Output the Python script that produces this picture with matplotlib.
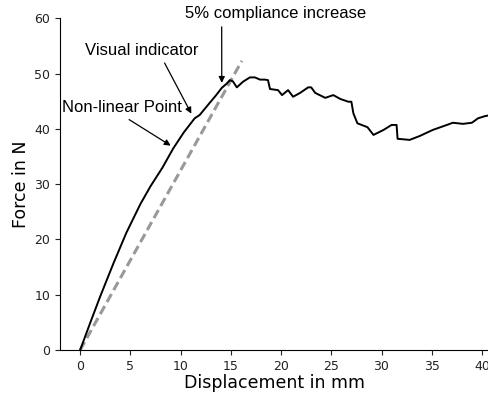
import numpy as np
import matplotlib.pyplot as plt

# force-displacement curve
disp = [0, 1.0, 2.0, 3.3, 4.6, 6.0, 7.0, 8.2, 9.25, 10.3, 11.4, 11.9,
        12.9, 13.5, 14.1, 14.6, 14.9, 15.2,
        15.6, 16.2, 16.9, 17.4, 17.9, 18.4, 18.7, 18.9, 19.7, 20.1, 20.7, 21.2,
        21.9, 22.7, 23.0, 23.4, 24.4, 25.2, 25.9, 26.7, 27.0, 27.2, 27.6, 28.6,
        29.2, 30.2, 31.0, 31.5, 31.6, 32.8, 33.8, 35.1, 36.5, 37.1, 38.1, 39.0,
        39.6, 40.3, 40.6]
force = [0, 4.9, 9.7, 15.6, 21.2, 26.4, 29.6, 33.0, 36.4, 39.3, 41.9, 42.5,
         44.7, 46.0, 47.4, 48.2, 48.8, 48.6,
         47.5, 48.5, 49.3, 49.3, 48.9, 48.9, 48.8, 47.2, 47.0, 46.1, 47.0, 45.8,
         46.5, 47.5, 47.5, 46.5, 45.6, 46.1, 45.4, 44.9, 44.9, 42.8, 41.0, 40.3,
         38.9, 39.8, 40.7, 40.7, 38.2, 38.0, 38.7, 39.8, 40.7, 41.1, 40.9, 41.1,
         41.9, 42.3, 42.4]

# initial stiffness line
lin_x = [0, 16.1]
lin_y = [0, 52.3]

fig = plt.figure(figsize=(4.88, 3.96), dpi=100)
ax = fig.add_axes([0.123, 0.116, 0.877, 0.838])

ax.plot(lin_x, lin_y, color='#999999', lw=2.2, ls=(0, (3, 1.5)))
ax.plot(disp, force, color='black', lw=1.4)

ax.set_xlim(-2, 40.6)
ax.set_ylim(0, 60)
ax.set_xticks([0, 5, 10, 15, 20, 25, 30, 35, 40])
ax.set_yticks([0, 10, 20, 30, 40, 50, 60])
ax.tick_params(labelsize=9, colors='#222222')
ax.spines['top'].set_visible(False)
ax.spines['right'].set_visible(False)

ax.set_xlabel('Displacement in mm', fontsize=12.5, labelpad=1)
ax.set_ylabel('Force in N', fontsize=12.5, labelpad=3)

arrow = dict(arrowstyle='-|>', color='black', lw=0.9, mutation_scale=9)
txt = dict(fontsize=12, family='Liberation Sans', ha='center', va='center')
ax.annotate('5% compliance increase', xy=(14.1, 47.8), xytext=(19.5, 60.8),
            arrowprops=dict(arrow, relpos=(0.2, 0)), annotation_clip=False, **txt)
ax.annotate('Visual indicator', xy=(11.2, 42.3), xytext=(6.1, 54.2),
            arrowprops=dict(arrow, relpos=(0.68, 0)), **txt)
ax.annotate('Non-linear Point', xy=(9.25, 36.7), xytext=(4.2, 43.8),
            arrowprops=dict(arrow, relpos=(0.5, 0)), **txt)

fig.savefig('out.png', dpi=100)
